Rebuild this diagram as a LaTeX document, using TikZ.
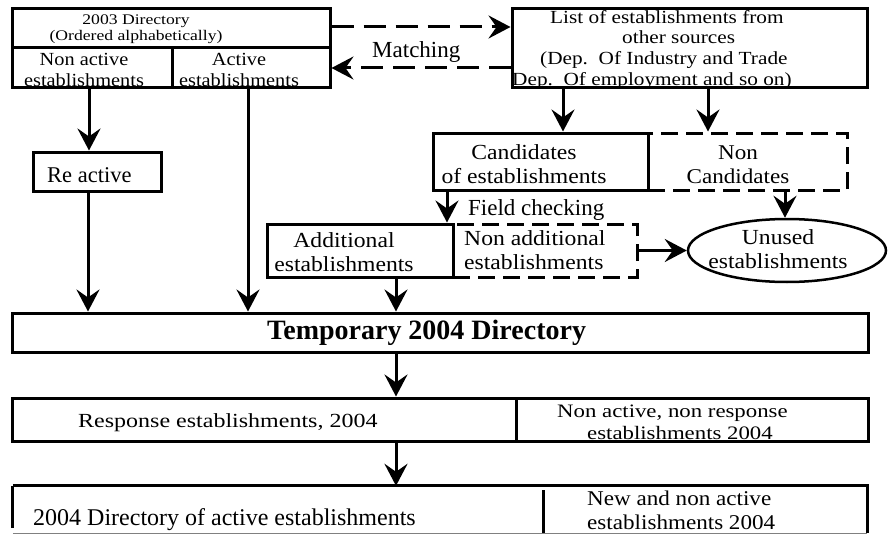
\documentclass[tikz,border=0pt]{standalone}
\usepackage{fontspec}
\setmainfont{Liberation Serif}
\newfontfamily\serifA[FakeStretch=1.1]{Liberation Serif}
\newfontfamily\serifB[FakeStretch=1.15]{Liberation Serif}
\newfontfamily\serifC[FakeStretch=1.2]{Liberation Serif}
\usetikzlibrary{arrows.meta,shapes.geometric}
\newcommand{\fsz}[2]{\fontsize{#1}{#2}\selectfont}
\begin{document}
\begin{tikzpicture}[x=1pt,y=-1pt,
  box/.style={draw, line width=3pt, inner sep=0pt, rectangle},
  dbox/.style={draw, line width=3pt, inner sep=0pt, rectangle, dash pattern=on 17pt off 8pt},
  arr/.style={line width=3pt, -{Stealth[length=22pt,width=23pt,inset=8pt]}},
  darr/.style={arr, dash pattern=on 22pt off 10pt},
  lbl/.style={inner sep=0pt, anchor=base, align=center},
  lblw/.style={inner sep=0pt, anchor=base west, align=left},
  rulel/.style={line width=3pt}
]
\useasboundingbox (0,0) rectangle (892,535);

% boxes
\node[box, minimum width=318pt, minimum height=39pt] (dirtop) at (171,28.5) {};
\node[box, minimum width=160pt, minimum height=40pt] (nonact) at (92,68) {};
\node[box, minimum width=158pt, minimum height=40pt] (act) at (251,68) {};
\node[box, minimum width=355pt, minimum height=79pt] (list) at (689.5,48.5) {};
\node[box, minimum width=128pt, minimum height=39pt] (react) at (97,171.5) {};
\node[dbox, minimum width=199pt, minimum height=57pt] (noncand) at (747.5,161.5) {};
\node[box, minimum width=215pt, minimum height=57pt] (cand) at (540.5,161.5) {};
\node[dbox, minimum width=184pt, minimum height=53pt] (nonaddl) at (545,250.5) {};
\node[box, minimum width=186pt, minimum height=53pt] (addl) at (360,250.5) {};
\node[draw, ellipse, line width=2.5pt, minimum width=198pt, minimum height=63pt, inner sep=0pt] (unused) at (787,250.5) {};
\node[box, minimum width=856pt, minimum height=39pt] (temp) at (440,332.5) {};
\node[box, minimum width=856pt, minimum height=43pt] (resp) at (440,419.5) {};
\node[inner sep=0pt, minimum width=854pt, minimum height=47pt] (final) at (440,509.5) {};

% final box borders and dividers
\draw[rulel] (final.north west) -- (final.north east) -- (final.south east);
\draw[rulel] (final.north west) -- ([yshift=5pt]final.south west);
\draw[gray, line width=1pt] (final.south west) -- (final.south east);
\coordinate (d1a) at (516,398);
\coordinate (d1b) at (516,443);
\draw[rulel] (d1a) -- (d1b);
\coordinate (d2a) at (543,490);
\coordinate (d2b) at (543,533);
\draw[rulel] (d2a) -- (d2b);

% connectors
\draw[arr] ([xshift=-3pt]nonact.south) -- ([xshift=-3pt]nonact.south |- react.north);
\draw[arr] ([xshift=-9pt]react.south) -- ([xshift=-9pt]react.south |- temp.north);
\draw[arr] ([xshift=-3pt]act.south) -- ([xshift=-3pt]act.south |- temp.north);
\draw[arr] ([xshift=36pt]addl.south) -- ([xshift=36pt]addl.south |- temp.north);
\draw[arr] ([xshift=-93.5pt]cand.south) -- ([xshift=-93.5pt]cand.south |- addl.north);
\draw[arr] ([xshift=-126.5pt]list.south) -- ([xshift=-126.5pt]list.south |- cand.north);
\draw[arr] ([xshift=18.5pt]list.south) -- ([xshift=18.5pt]list.south |- noncand.north);
\draw[arr] ([xshift=37.5pt]noncand.south) -- ([xshift=37.5pt]noncand.south |- unused.north);
\draw[arr] (nonaddl.east) -- (unused.west);
\draw[arr] ([xshift=-44pt]temp.south) -- ([xshift=-44pt]temp.south |- resp.north);
\draw[arr] ([xshift=-44pt]resp.south) -- ([xshift=-44pt]resp.south |- final.north);
\draw[darr] ([yshift=1.5pt]dirtop.east) -- ([yshift=1.5pt]dirtop.east -| list.west);
\draw[darr] (act.east -| list.west) -- (act.east);

% texts
\node[lbl, font={\serifC\fsz{14.7}{16.6}}] (t1) at (136,41) {2003 Directory\\(Ordered alphabetically)};
\node[lbl, font={\serifA\fsz{18.5}{20.5}}] (t2) at (84,86) {Non active\\establishments};
\node[lbl, font={\serifA\fsz{18.5}{20.5}}] (t3) at (239,86) {Active\\establishments};
\node[lblw, font=\fsz{23}{23}] (tmatch) at (372,58) {Matching};
\node[lblw, font={\serifB\fsz{18.5}{20.6}}] (t4) at (512,85) {\hspace*{38pt}List of establishments from\\\hspace*{110pt}other sources\\\hspace*{28pt}(Dep.~~Of Industry and Trade\\Dep.~~Of employment and so on)};
\node[lblw, font=\fsz{22.5}{22.5}] (t5) at (47,182) {Re active};
\node[lbl, font={\serifA\fsz{21.5}{23.9}}] (t6) at (524,183) {Candidates\\of establishments};
\node[lbl, font={\serifA\fsz{21}{23.4}}] (t7) at (738,183) {Non\\Candidates};
\node[lblw, font=\fsz{23}{23}] (tfield) at (468,215) {Field checking};
\node[lbl, font={\serifA\fsz{21.5}{23.9}}] (t8) at (344,271) {Additional\\establishments};
\node[lblw, font={\serifA\fsz{21.5}{23.9}}] (t9) at (464,269) {Non additional\\establishments};
\node[lbl, font={\serifA\fsz{21.5}{23.9}}] (t10) at (778,268) {Unused\\establishments};
\node[lblw, font={\bfseries\fsz{28}{28}}] (t11) at (267,339) {Temporary 2004 Directory};
\node[lblw, font={\serifC\fsz{20}{20}}] (t12) at (78,427) {Response establishments, 2004};
\node[lblw, font={\serifC\fsz{19}{21.1}}] (t13) at (557,439) {Non active, non response\\\hspace*{30pt}establishments 2004};
\node[lblw, font=\fsz{24}{24}] (t14) at (33,525) {2004 Directory of active establishments};
\node[lblw, font={\serifA\fsz{21}{23.3}}] (t15) at (587,529) {New and non active\\establishments 2004};
\end{tikzpicture}
\end{document}
